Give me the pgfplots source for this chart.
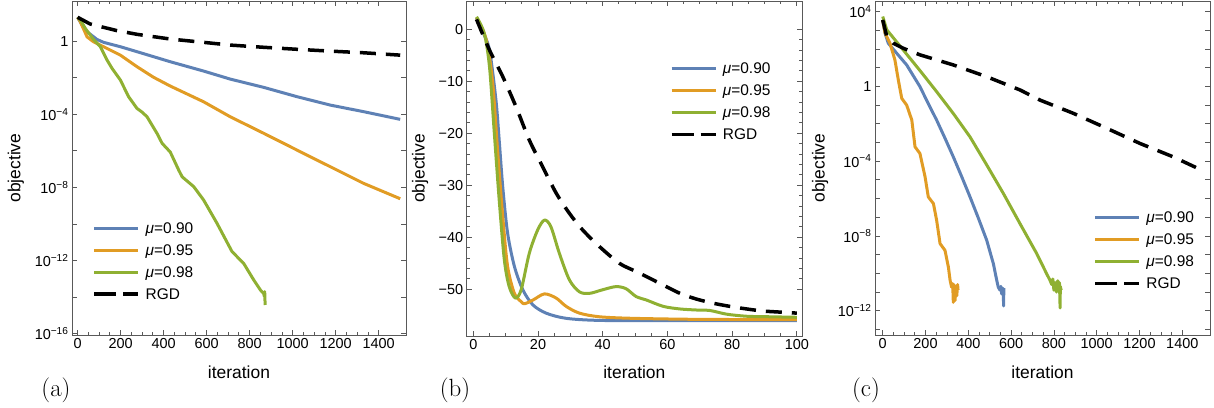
\documentclass[border=0pt]{standalone}
\usepackage{fontspec}
\usepackage{pgfplots}
\pgfplotsset{compat=1.18}
\newfontfamily\arialf{Liberation Sans}
\definecolor{mblue}{rgb}{0.368417,0.506779,0.709798}
\definecolor{morange}{rgb}{0.880722,0.611041,0.142051}
\definecolor{mgreen}{rgb}{0.560181,0.691569,0.194885}
\definecolor{mframe}{gray}{0.35}
\pgfplotsset{legend image code/.code={\draw[#1] (0bp,0bp) -- (44bp,0bp);}}
\pgfplotsset{
 mstyle/.style={
  scale only axis,
  axis line style={mframe, line width=0.8bp},
  tick style={mframe, line width=0.8bp},
  tick align=inside,
  major tick length=5bp, minor tick length=2.8bp,
  ticklabel style={font=\fontsize{14.5}{16}\selectfont\arialf},
  label style={font=\fontsize{17.5}{20}\selectfont\arialf},
  legend style={draw=none, fill=none, inner sep=0pt, outer sep=0pt,
    font=\fontsize{15.5}{18}\selectfont\arialf, row sep=8bp,
    nodes={inner sep=0pt, text height=12bp, text depth=2bp},
    /tikz/every odd column/.append style={column sep=5.5bp},
    anchor=north west},
  legend cell align=left,
  ylabel={objective}, xlabel={iteration},
 },
 bl/.style={mblue, line width=3bp, line join=round},
 or/.style={morange, line width=3bp, line join=round},
 gr/.style={mgreen, line width=3bp, line join=round},
 rg/.style={black, line width=3.5bp, dash pattern=on 16bp off 10bp, legend image post style={dash pattern=on 22bp off 7bp}},
}
\begin{document}
\begin{tikzpicture}
\path[use as bounding box] (0,0) rectangle (1214bp,-408bp);
% ---------------- (a)
\begin{axis}[mstyle, at={(72bp,-335bp)}, anchor=south west, width=334bp, height=334bp,
  ymode=log, xmin=-26, xmax=1527, ymin=8.51e-17, ymax=155,
  xtick={0,200,400,600,800,1000,1200,1400}, xticklabels={0,200,400,600,800,1000,1200,1400},
  minor x tick num=3,
  ytick={1e-16,1e-14,1e-12,1e-10,1e-8,1e-6,1e-4,1e-2,1},
  yticklabels={10\textsuperscript{−16},,10\textsuperscript{−12},,10\textsuperscript{−8},,10\textsuperscript{−4},,1},
  yminorticks=false,
  ylabel style={at={(axis description cs:-0.168,0.5)}, anchor=center},
  xlabel style={at={(axis description cs:0.5,-0.111)}, anchor=center},
  legend style={at={(axis description cs:0.062,0.341)}}]
\addplot[bl] coordinates {(0,20) (22,7.08) (44,3.24) (90,1.23) (121,0.851) (199,0.490) (276,0.263) (431,7.41e-2) (586,2.29e-2) (710,8.32e-3) (865,2.95e-3) (1020,9.12e-4) (1175,3.16e-4) (1330,1.38e-4) (1500,5.25e-5)};
\addlegendentry{\textit{μ}=0.90}
\addplot[or] coordinates {(0,20) (13,11.2) (44,1.70) (74,0.912) (121,0.490) (199,0.170) (276,3.98e-2) (353,1.05e-2) (431,3.47e-3) (586,4.79e-4) (710,7.24e-5) (865,9.12e-6) (1020,1.10e-6) (1175,1.35e-7) (1330,1.66e-8) (1500,2.40e-9)};
\addlegendentry{\textit{μ}=0.95}
\addplot[gr] coordinates {(0,20) (13,14.1) (36,4.90) (74,1.23) (106,0.490) (137,9.12e-2) (160,3.24e-2) (199,7.41e-3) (237,9.12e-4) (276,2.09e-4) (300,1.3e-4) (323,7.24e-5) (369,9.12e-6) (393,2.57e-6) (431,8.51e-7) (470,8.91e-8) (486,3.80e-8) (540,1.10e-8) (586,2.04e-9) (648,1.10e-10) (718,3.09e-12) (772,7.08e-13) (819,8.71e-14) (850,2.45e-14) (865,1.62e-14) (868,1.12e-14) (870,2.0e-14) (872,3.72e-15)};
\addlegendentry{\textit{μ}=0.98}
\addplot[rg] coordinates {(0,20) (59,8.51) (121,5.62) (180,3.80) (276,2.34) (431,1.29) (586,0.851) (710,0.603) (865,0.457) (1020,0.355) (1175,0.282) (1330,0.229) (1500,0.170)};
\addlegendentry{RGD}
\end{axis}
% ---------------- (b)
\begin{axis}[mstyle, at={(466.7bp,-336bp)}, anchor=south west, width=335.3bp, height=335bp,
  xmin=-2.04, xmax=101.6, ymin=-59, ymax=5.44,
  xtick={0,20,40,60,80,100}, xticklabels={0,20,40,60,80,100}, minor x tick num=3,
  ytick={-50,-40,-30,-20,-10,0}, yticklabels={−50,−40,−30,−20,−10,0}, minor y tick num=4,
  ylabel style={at={(axis description cs:-0.139,0.5)}, anchor=center},
  xlabel style={at={(axis description cs:0.5,-0.107)}, anchor=center},
  legend style={at={(axis description cs:0.606,0.820)}}]
\addplot[bl, smooth, tension=0.5] coordinates {(1,2.2) (2.9,-0.46) (5,-4) (7,-13.6) (8,-21.3) (9.1,-30.3) (10.6,-39.2) (12.7,-45.6) (15.3,-50.1) (18.4,-53) (22.5,-54.6) (28.7,-55.6) (39,-56) (60,-56.05) (100,-56.05)};
\addlegendentry{\textit{μ}=0.90}
\addplot[or, smooth, tension=0.5] coordinates {(1,2.2) (4,-2) (6,-10.4) (7.5,-23.2) (9.1,-36) (10.6,-45.6) (12.7,-50.8) (14.8,-52.4) (15.8,-52.8) (18.4,-52.1) (22,-50.9) (25.6,-51.7) (28.7,-53.3) (32.8,-54.6) (39,-55.3) (49.3,-55.6) (70,-55.8) (100,-55.85)};
\addlegendentry{\textit{μ}=0.95}
\addplot[gr, smooth, tension=0.5] coordinates {(1,2.4) (3.4,-0.8) (5,-7.2) (6.5,-20) (8,-32.8) (9.6,-44.4) (11.1,-49.5) (13,-51.7) (14.8,-50.1) (17.3,-43.1) (19.9,-38.6) (22,-36.7) (24,-38) (26.6,-43.1) (29.7,-48.2) (32.8,-50.5) (35.9,-50.8) (40,-50.1) (44.1,-49.5) (47.2,-49.9) (50.3,-51.4) (53.6,-52.1) (58.7,-53.3) (63.9,-53.8) (69,-54) (73.2,-54.1) (78.3,-54.8) (84.5,-55.2) (91.7,-55.3) (100,-55.4)};
\addlegendentry{\textit{μ}=0.98}
\addplot[rg, smooth, tension=0.5] coordinates {(1,1.9) (5,-4) (9.1,-9.1) (13.2,-14.9) (17.3,-21.3) (21.4,-26.4) (25.6,-31.5) (29.7,-35.4) (33.8,-38.6) (39,-41.8) (45.1,-45) (50,-46.5) (53.6,-47.6) (58.7,-49.2) (63.9,-50.8) (69,-51.9) (74.2,-52.7) (79.3,-53.3) (84.5,-53.8) (89.6,-54.2) (94.8,-54.4) (100,-54.6)};
\addlegendentry{RGD}
\end{axis}
% ---------------- (c)
\begin{axis}[mstyle, at={(875bp,-335bp)}, anchor=south west, width=335bp, height=334bp,
  ymode=log, xmin=-36, xmax=1529.5, ymin=5.01e-14, ymax=3.72e4,
  xtick={0,200,400,600,800,1000,1200,1400}, xticklabels={0,200,400,600,800,1000,1200,1400},
  minor x tick num=3,
  ytick={1e-13,1e-12,1e-11,1e-10,1e-9,1e-8,1e-7,1e-6,1e-5,1e-4,1e-3,1e-2,1e-1,1,1e1,1e2,1e3,1e4},
  yticklabels={,10\textsuperscript{−12},,,,10\textsuperscript{−8},,,,10\textsuperscript{−4},,,,1,,,,10\textsuperscript{4}},
  yminorticks=false,
  ylabel style={at={(axis description cs:-0.164,0.5)}, anchor=center},
  xlabel style={at={(axis description cs:0.5,-0.111)}, anchor=center},
  legend style={at={(axis description cs:0.652,0.373)}}]
\addplot[bl] coordinates {(0,3.55e3) (11,708) (26,204) (65,60.3) (112,14.1) (174,0.977) (213,0.12) (252,1.58e-2) (291,1.7e-3) (330,1.70e-4) (369,1.5e-5) (408,1.23e-6) (447,9.0e-8) (486,5.89e-9) (517,3.31e-10) (533,4.17e-11) (540,1.82e-11) (548,1.26e-11) (552,2.0e-11) (556,7.9e-12) (560,1.6e-11) (563,1.4e-11) (565,1.8e-12) (566,1.6e-11)};
\addlegendentry{\textit{μ}=0.90}
\addplot[or] coordinates {(0,3.55e3) (11,708) (34,204) (57,26.3) (73,2.19) (89,0.229) (112,0.1) (136,1.58e-2) (151,5.89e-4) (174,2.57e-4) (198,1.45e-5) (213,1.23e-6) (237,5.37e-7) (252,6.92e-8) (268,3.89e-9) (291,1.70e-9) (307,2.14e-10) (315,4.17e-11) (322,1.82e-11) (327,2.8e-11) (330,2.8e-12) (333,2.5e-11) (338,3.5e-12) (342,2.0e-11) (346,6.3e-12) (350,2.5e-11) (352,1.3e-11)};
\addlegendentry{\textit{μ}=0.95}
\addplot[gr] coordinates {(0,5.50e3) (19,1.07e3) (96,89.1) (174,7.08) (252,0.525) (330,3.55e-2) (408,2.0e-3) (486,6.31e-5) (564,1.86e-6) (642,4.47e-8) (720,1.12e-9) (766,9.55e-11) (782,4.17e-11) (790,2.5e-11) (795,5.0e-11) (800,1.26e-11) (806,3.2e-11) (812,1.0e-11) (818,4.0e-11) (822,1.6e-11) (826,3.2e-11) (829,1.4e-12) (830,2.0e-11) (834,1.26e-11)};
\addlegendentry{\textit{μ}=0.98}
\addplot[rg] coordinates {(0,3.63e3) (19,468) (50,204) (96,110) (174,49) (330,14.1) (486,3.31) (642,0.646) (735,0.186) (891,3.63e-2) (1047,5.75e-3) (1202,8.91e-4) (1358,1.70e-4) (1498,3.02e-5)};
\addlegendentry{RGD}
\end{axis}
\node[font=\fontsize{25}{30}\selectfont] at (56bp,-390bp) {(a)};
\node[font=\fontsize{25}{30}\selectfont] at (455bp,-390bp) {(b)};
\node[font=\fontsize{25}{30}\selectfont] at (866bp,-390bp) {(c)};
\end{tikzpicture}
\end{document}
